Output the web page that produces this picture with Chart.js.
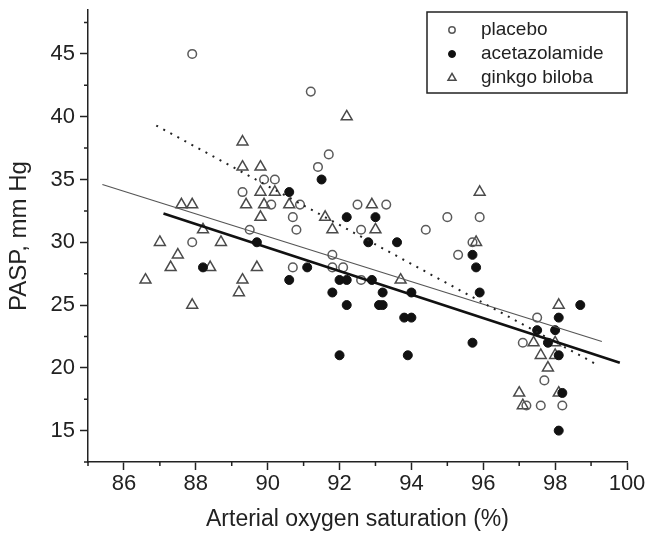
<!DOCTYPE html>
<html lang="en">
<head>
<meta charset="UTF-8">
<title>PASP vs arterial oxygen saturation</title>
<style>
    body {
        margin: 0;
        background: #fff;
    }
</style>
</head>
<body>
<canvas id="scatterChart" width="647" height="539"></canvas>

<script src="https://cdn.jsdelivr.net/npm/chart.js"></script>
<script>
    // Data: [saturation %, PASP mm Hg]
    const placebo = [
        [87.9, 45], [91.2, 42], [91.7, 37], [91.4, 36], [89.9, 35], [90.2, 35],
        [89.3, 34], [90.1, 33], [90.9, 33], [90.7, 32], [89.5, 31], [87.9, 30],
        [90.8, 31], [92.5, 33], [93.3, 33], [92.6, 31], [94.4, 31], [91.8, 29],
        [90.7, 28], [91.8, 28], [92.1, 28], [92.6, 27], [95.0, 32], [95.9, 32],
        [95.7, 30], [95.3, 29], [97.5, 24], [97.1, 22], [97.7, 19], [97.2, 17],
        [97.6, 17], [98.2, 17]
    ];
    const acetazolamide = [
        [89.7, 30], [88.2, 28], [91.5, 35], [90.6, 34], [92.2, 32], [93.0, 32],
        [92.8, 30], [93.6, 30], [91.1, 28], [90.6, 27], [92.0, 27], [92.2, 27],
        [92.9, 27], [91.8, 26], [93.2, 26], [94.0, 26], [92.2, 25], [93.1, 25],
        [93.2, 25], [93.8, 24], [94.0, 24], [92.0, 21], [93.9, 21], [95.7, 29],
        [95.8, 28], [95.9, 26], [98.7, 25], [98.1, 24], [97.5, 23], [98.0, 23],
        [95.7, 22], [97.8, 22], [98.1, 21], [98.2, 18], [98.1, 15]
    ];
    const ginkgo = [
        [89.3, 38], [89.3, 36], [89.8, 36], [92.2, 40], [89.8, 34], [90.2, 34],
        [89.4, 33], [89.9, 33], [87.6, 33], [87.9, 33], [89.8, 32], [88.2, 31],
        [87.0, 30], [88.7, 30], [87.5, 29], [87.3, 28], [88.4, 28], [89.7, 28],
        [86.6, 27], [89.3, 27], [89.2, 26], [87.9, 25], [90.6, 33], [91.6, 32],
        [92.9, 33], [91.8, 31], [93.0, 31], [93.7, 27], [95.9, 34], [95.8, 30],
        [98.1, 25], [97.4, 22], [98.0, 22], [97.6, 21], [98.0, 21], [97.8, 20],
        [97.0, 18], [98.1, 18], [97.1, 17]
    ];

    // regression line end points
    const placeboFit = [[86.9, 39.3], [99.2, 20.2]];
    const acetazolamideFit = [[87.1, 32.3], [99.8, 20.4]];
    const ginkgoFit = [[85.4, 34.6], [99.3, 22.1]];

    const seriesNames = ['placebo', 'acetazolamide', 'ginkgo biloba'];

    const xRange = [85, 100];
    const yRange = [12.5, 48.5];

    const FONT = '"Liberation Sans", Arial, sans-serif';
    const toXY = arr => arr.map(p => ({ x: p[0], y: p[1] }));

    // Framed legend in the top right corner
    const boxLegend = {
        id: 'boxLegend',
        afterDraw(chart) {
            const ctx = chart.ctx;
            const area = chart.chartArea;
            const w = 200, h = 81;
            const left = area.right - w;
            const top = area.top + 2;
            ctx.save();
            ctx.lineWidth = 1.5;
            ctx.strokeStyle = '#222';
            ctx.strokeRect(left, top, w, h);
            ctx.font = '19px ' + FONT;
            ctx.textBaseline = 'middle';
            chart.data.datasets.forEach(ds => {
                if (ds.legendRow === undefined) return;
                const y = top + 18 + ds.legendRow * 24;
                ctx.strokeStyle = ds.borderColor;
                ctx.fillStyle = ds.backgroundColor;
                ctx.lineWidth = ds.borderWidth;
                Chart.helpers.drawPoint(ctx, {
                    pointStyle: ds.pointStyle,
                    radius: ds.legendRadius,
                    rotation: 0,
                    borderWidth: ds.borderWidth
                }, left + 25, y);
                ctx.fillStyle = '#222';
                ctx.fillText(ds.label, left + 54, y);
            });
            ctx.restore();
        }
    };

    // short minor ticks between the labelled ones
    const minorTicks = {
        id: 'minorTicks',
        afterDraw(chart) {
            const ctx = chart.ctx;
            const xs = chart.scales.x, ys = chart.scales.y;
            ctx.save();
            ctx.strokeStyle = '#222';
            ctx.lineWidth = 1.5;
            ctx.beginPath();
            xs.ticks.forEach(t => {
                if (t.value % 2 === 0) return;
                const px = xs.getPixelForValue(t.value);
                ctx.moveTo(px, xs.top);
                ctx.lineTo(px, xs.top + 4);
            });
            ys.ticks.forEach(t => {
                if (t.value % 5 === 0) return;
                const py = ys.getPixelForValue(t.value);
                ctx.moveTo(ys.right, py);
                ctx.lineTo(ys.right - 4, py);
            });
            ctx.stroke();
            ctx.restore();
        }
    };

    const ctx = document.getElementById('scatterChart').getContext('2d');
    new Chart(ctx, {
        type: 'scatter',
        data: {
            datasets: [
                {
                    label: 'placebo fit',
                    data: toXY(placeboFit),
                    showLine: true,
                    pointRadius: 0,
                    borderColor: '#222',
                    borderWidth: 2,
                    borderDash: [2, 6]
                },
                {
                    label: 'acetazolamide fit',
                    data: toXY(acetazolamideFit),
                    showLine: true,
                    pointRadius: 0,
                    borderColor: '#111',
                    borderWidth: 2.6
                },
                {
                    label: 'ginkgo biloba fit',
                    data: toXY(ginkgoFit),
                    showLine: true,
                    pointRadius: 0,
                    borderColor: '#555',
                    borderWidth: 1.2
                },
                {
                    label: seriesNames[0],
                    data: toXY(placebo),
                    pointStyle: 'circle',
                    pointRadius: 4.3,
                    borderColor: '#5a5a5a',
                    backgroundColor: 'rgba(0,0,0,0)',
                    borderWidth: 1.5,
                    legendRow: 0,
                    legendRadius: 3.2
                },
                {
                    label: seriesNames[1],
                    data: toXY(acetazolamide),
                    pointStyle: 'circle',
                    pointRadius: 4.5,
                    borderColor: '#111',
                    backgroundColor: '#111',
                    borderWidth: 1,
                    legendRow: 1,
                    legendRadius: 3.5
                },
                {
                    label: seriesNames[2],
                    data: toXY(ginkgo),
                    pointStyle: 'triangle',
                    pointRadius: 6.3,
                    borderColor: '#4a4a4a',
                    backgroundColor: 'rgba(0,0,0,0)',
                    borderWidth: 1.5,
                    legendRow: 2,
                    legendRadius: 4.6
                }
            ]
        },
        options: {
            responsive: false,
            animation: false,
            layout: {
                padding: { top: 10, right: 20, left: 0, bottom: 0 }
            },
            plugins: {
                legend: { display: false },
                tooltip: { enabled: false }
            },
            scales: {
                x: {
                    type: 'linear',
                    min: xRange[0],
                    max: xRange[1],
                    ticks: {
                        stepSize: 1,
                        autoSkip: false,
                        maxRotation: 0,
                        padding: 1,
                        color: '#222',
                        font: { family: FONT, size: 22 },
                        callback: v => (v % 2 === 0 ? v : '')
                    },
                    grid: {
                        drawOnChartArea: false,
                        tickLength: 8,
                        tickWidth: 1.5,
                        tickColor: c => (c.tick && c.tick.value % 2 === 0 ? '#222' : 'rgba(0,0,0,0)')
                    },
                    border: { color: '#222', width: 1.5 },
                    title: {
                        display: true,
                        text: 'Arterial oxygen saturation (%)',
                        color: '#222',
                        font: { family: FONT, size: 23 },
                        padding: { top: 0, bottom: 6 }
                    },
                    afterFit: s => {
                        s.height = 77;
                        s.paddingLeft = 0;
                        s.paddingRight = 0;
                    }
                },
                y: {
                    type: 'linear',
                    min: yRange[0],
                    max: yRange[1],
                    ticks: {
                        stepSize: 2.5,
                        includeBounds: false,
                        autoSkip: false,
                        padding: 5,
                        color: '#222',
                        font: { family: FONT, size: 22 },
                        callback: v => (v % 5 === 0 ? v : '')
                    },
                    grid: {
                        drawOnChartArea: false,
                        tickLength: 8,
                        tickWidth: 1.5,
                        tickColor: c => (c.tick && c.tick.value % 5 === 0 ? '#222' : 'rgba(0,0,0,0)')
                    },
                    border: { color: '#222', width: 1.5 },
                    title: {
                        display: true,
                        text: 'PASP, mm Hg',
                        color: '#222',
                        font: { family: FONT, size: 24 },
                        padding: { top: 5, bottom: 0 }
                    },
                    afterFit: s => {
                        s.width = 88;
                        s.paddingTop = 0;
                        s.paddingBottom = 0;
                    }
                }
            }
        },
        plugins: [boxLegend, minorTicks]
    });
</script>
</body>
</html>
